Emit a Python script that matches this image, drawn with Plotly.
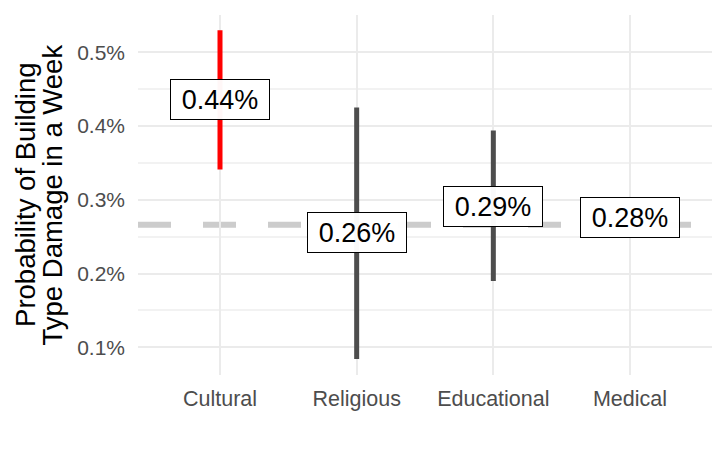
import plotly.graph_objects as go

categories = ["Cultural", "Religious", "Educational", "Medical"]
mean_pct = [0.436, 0.255, 0.2905, 0.2756]
low_pct = [0.341, 0.084, 0.190, None]
high_pct = [0.530, 0.425, 0.394, None]
label_text = ["0.44%", "0.26%", "0.29%", "0.28%"]
bar_colors = ["#ff0000", "#4d4d4d", "#4d4d4d", "#4d4d4d"]
baseline_pct = 0.266
y_ticks = [0.1, 0.2, 0.3, 0.4, 0.5]
y_ticklabels = ["0.1%", "0.2%", "0.3%", "0.4%", "0.5%"]

FONT = "Liberation Sans, Arial, sans-serif"

fig = go.Figure()

# baseline dashed line
fig.add_shape(type="line", xref="paper", yref="y", x0=0, x1=1,
              y0=baseline_pct, y1=baseline_pct,
              line=dict(color="#cccccc", width=6, dash="33px,32px"), layer="below")

for c, m, lo, hi, col in zip(categories, mean_pct, low_pct, high_pct, bar_colors):
    if lo is None or hi is None:
        fig.add_trace(go.Scatter(x=[c], y=[m], mode="markers",
                                 marker=dict(size=1, opacity=0), showlegend=False,
                                 hoverinfo="skip"))
        continue
    fig.add_trace(go.Scatter(x=[c, c], y=[lo, hi], mode="lines",
                             line=dict(color=col, width=5), showlegend=False,
                             hoverinfo="skip"))

for c, m, t in zip(categories, mean_pct, label_text):
    fig.add_annotation(x=c, y=m, xref="x", yref="y", text=t, showarrow=False,
                       font=dict(family=FONT, size=27, color="#000000"),
                       bgcolor="rgba(255,255,255,0.97)", bordercolor="#000000",
                       borderwidth=1, borderpad=2, width=94, height=35)

# y-axis title as two lines
fig.add_annotation(xref="paper", yref="paper", x=-0.197, y=0.5, xanchor="center",
                   yanchor="middle", text="Probability of Building", textangle=-90,
                   showarrow=False, font=dict(family=FONT, size=27.5, color="#000000"))
fig.add_annotation(xref="paper", yref="paper", x=-0.149, y=0.5, xanchor="center",
                   yanchor="middle", text="Type Damage in a Week", textangle=-90,
                   showarrow=False, font=dict(family=FONT, size=27.5, color="#000000"))

fig.update_layout(
    width=718, height=446,
    margin=dict(l=130, r=14, t=7, b=79),
    paper_bgcolor="white", plot_bgcolor="white",
    font=dict(family=FONT),
    showlegend=False,
)
fig.update_xaxes(
    categoryorder="array", categoryarray=categories, automargin=False,
    range=[-0.6, 3.6], showgrid=True, gridcolor="#ebebeb", gridwidth=2,
    zeroline=False, showline=False, ticks="",
    tickfont=dict(family=FONT, size=21.5, color="#4d4d4d"),
    ticklabelstandoff=8,
)
fig.update_yaxes(
    range=[0.0624, 0.5506], tickvals=y_ticks, ticktext=y_ticklabels, automargin=False,
    showgrid=True, gridcolor="#ebebeb", gridwidth=2,
    minor=dict(dtick=0.1, tick0=0.05, showgrid=True, gridcolor="#f2f2f2", gridwidth=1.5),
    zeroline=False, showline=False, ticks="",
    tickfont=dict(family=FONT, size=21, color="#4d4d4d"),
    ticklabelstandoff=12,
)

fig.write_html("out.html")
